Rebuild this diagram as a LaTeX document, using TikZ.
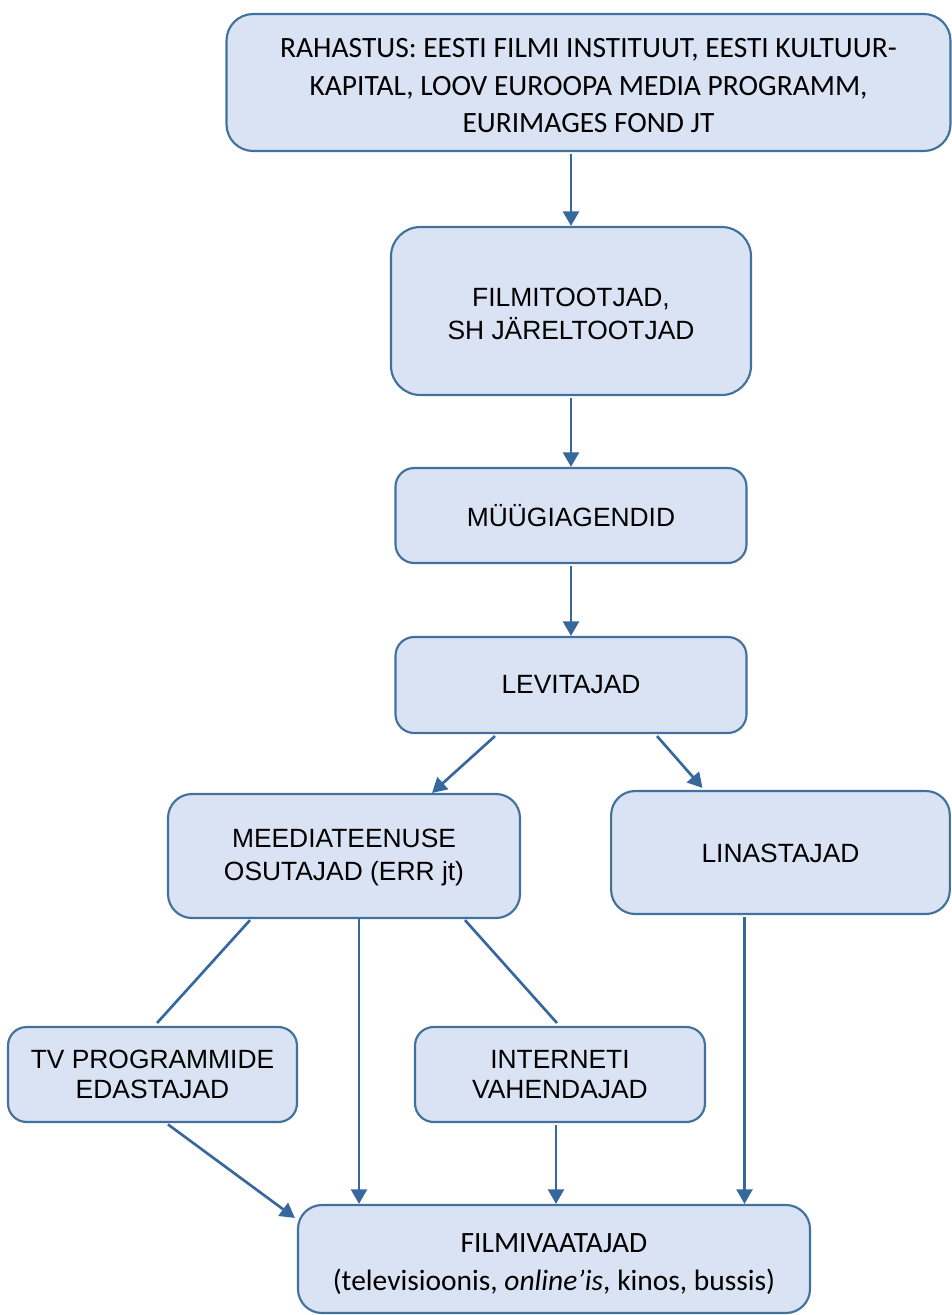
\documentclass[tikz,border=0pt]{standalone}
\usepackage{fontspec}
\setmainfont{Liberation Sans}
\newfontfamily\calib{Carlito}
\usetikzlibrary{arrows.meta,calc}
\definecolor{boxfill}{RGB}{218,227,243}
\definecolor{boxline}{RGB}{65,113,156}
\definecolor{conn}{RGB}{54,104,158}
\tikzset{
  box/.style={draw=boxline, line width=1.6pt, fill=boxfill, rounded corners=#1, inner sep=0pt},
  box/.default=14pt,
  atxt/.style={align=center, inner sep=0pt, font=\fontsize{19.8}{22}\selectfont},
  btxt/.style={align=center, inner sep=0pt, font=\fontsize{19.8}{24.75}\selectfont},
  ctxt/.style={align=center, inner sep=0pt, font=\calib\fontsize{22.1}{28.2}\selectfont},
  arr/.style={draw=conn, line width=2pt, -{Triangle[length=11pt,width=12pt]}},
  ln/.style={draw=conn, line width=2pt}
}
\begin{document}
\begin{tikzpicture}[x=0.75pt,y=-0.75pt]
\useasboundingbox (0,0) rectangle (952,1315);
\node[box=20pt, minimum width=543pt, minimum height=102.75pt] (top) at (588.5,82.5) {};
\node[ctxt] (top-t) at ([yshift=-2.5pt]top.center)
  {RAHASTUS: EESTI FILMI INSTITUUT, EESTI KULTUUR-\\KAPITAL, LOOV EUROOPA MEDIA PROGRAMM,\\EURIMAGES FOND JT};
\node[box=22pt, minimum width=270pt, minimum height=126pt] (film) at (571,311) {};
\node[btxt] (film-t) at ([yshift=-2pt]film.center) {FILMITOOTJAD,\\SH JÄRELTOOTJAD};
\node[box=14pt, minimum width=263.25pt, minimum height=71.25pt] (myyk) at (571,515.5) {};
\node[atxt] (myyk-t) at (myyk.center) {MÜÜGIAGENDID};
\node[box=14pt, minimum width=263.25pt, minimum height=72pt] (levit) at (571,685) {};
\node[atxt] (levit-t) at (levit.center) {LEVITAJAD};
\node[box=18pt, minimum width=264pt, minimum height=93pt] (meedia) at (344,856) {};
\node[btxt] (meedia-t) at ([yshift=-1.5pt]meedia.center) {MEEDIATEENUSE\\OSUTAJAD (ERR jt)};
\node[box=18pt, minimum width=254pt, minimum height=92.25pt] (linast) at (780.5,852.5) {};
\node[atxt] (linast-t) at ([yshift=-1pt]linast.center) {LINASTAJAD};
\node[box=14pt, minimum width=216.75pt, minimum height=71.25pt] (tv) at (152.5,1074.5) {};
\node[atxt] (tv-t) at (tv.center) {TV PROGRAMMIDE\\EDASTAJAD};
\node[box=14pt, minimum width=217.5pt, minimum height=71.25pt] (inet) at (560,1074.5) {};
\node[atxt] (inet-t) at (inet.center) {INTERNETI\\VAHENDAJAD};
\node[box=18pt, minimum width=384pt, minimum height=81pt] (vaat) at (554,1259) {};
\node[ctxt] (vaat-t) at ([yshift=-4pt]vaat.center)
  {FILMIVAATAJAD\\(televisioonis, \textit{online’is}, kinos, bussis)};

\draw[arr] ([yshift=-1.5pt]film.north |- top.south) -- (film.north);
\draw[arr] ([yshift=-1.5pt]film.south) -- (myyk.north);
\draw[arr] ([yshift=-1.5pt]myyk.south) -- (levit.north);
\draw[arr] ([xshift=-57pt,yshift=-1.5pt]levit.south) -- ([xshift=66pt]meedia.north);
\draw[arr] ([xshift=64.5pt,yshift=-1.5pt]levit.south) -- ([xshift=-58.5pt,yshift=1.5pt]linast.north);
\draw[ln] ([xshift=-70.5pt,yshift=-0.8pt]meedia.south) -- ([xshift=3.4pt,yshift=2.2pt]tv.north);
\draw[ln] ([xshift=90.75pt,yshift=-0.8pt]meedia.south) -- ([xshift=-2.25pt,yshift=2.2pt]inet.north);
\coordinate (m1) at ([xshift=11.25pt]meedia.south);
\draw[arr] (m1) -- (m1 |- vaat.north);
\coordinate (i1) at ([xshift=-3pt]inet.south);
\draw[arr] ([yshift=-1.5pt]i1) -- (i1 |- vaat.north);
\coordinate (l1) at ([xshift=-27pt]linast.south);
\draw[arr] ([yshift=-1.5pt]l1) -- (l1 |- vaat.north);
\draw[arr] ([xshift=11.6pt,yshift=-1pt]tv.south) -- ([xshift=-1.5pt,yshift=-10.5pt]vaat.north west);
\end{tikzpicture}
\end{document}
